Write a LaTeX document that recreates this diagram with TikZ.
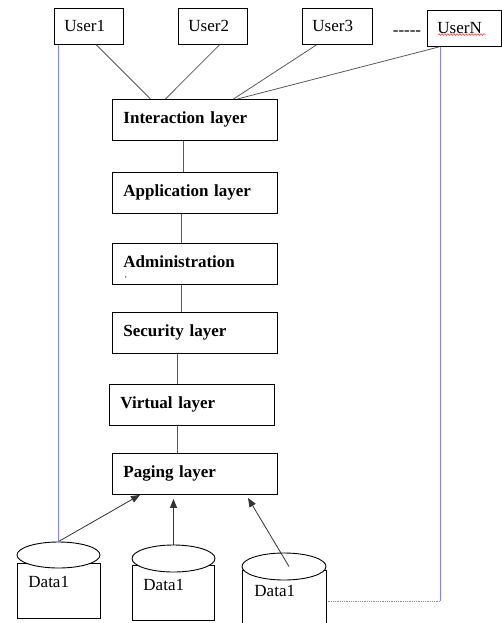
\documentclass[tikz,border=0pt]{standalone}
\usepackage{fontspec}
\setmainfont{Liberation Serif}
\usepackage{tikz}
\usetikzlibrary{positioning,calc,shapes.geometric,arrows.meta,decorations.pathmorphing}

\begin{document}
\begin{tikzpicture}[x=1pt, y=-1pt, line width=0.9pt,
    userbox/.style={draw, anchor=north west, minimum height=36pt, inner xsep=10pt, text width=49pt, align=left, font=\fontsize{17}{20}\selectfont},
    layerbox/.style={draw, anchor=north west, minimum height=41pt, inner xsep=11pt, text width=143pt, align=left, text height=12pt, text depth=4pt, font=\bfseries\fontsize{17}{20}\selectfont},
    dbox/.style={draw, anchor=north west, minimum width=83pt, minimum height=55pt, inner sep=0pt},
    dtop/.style={draw, ellipse, fill=white, minimum width=83pt, minimum height=26pt, inner sep=0pt},
    dlabel/.style={anchor=base west, inner sep=0pt, font=\fontsize{17}{20}\selectfont},
    link/.style={draw=black!65, line width=0.8pt},
    feed/.style={draw=black!80, line width=0.8pt, -{Triangle[length=9pt,width=7pt]}},
    blueline/.style={draw=blue!50, line width=0.6pt}]
    \useasboundingbox (0,0) rectangle (502,623);

    % Users
    \node[userbox] (user1) at (54,8) {User1};
    \node[userbox] (user2) at (178,8) {User2};
    \node[userbox, text width=50pt] (user3) at (302,8) {User3};
    \node[userbox, text width=54pt] (userN) at (427,10) {UserN};
    \node[font=\fontsize{17}{20}\selectfont, anchor=base, inner sep=0pt] (more) at (407,36) {-{}-{}-{}-{}-};
    \draw[red, line width=0.4pt, decorate, decoration={snake, segment length=3pt, amplitude=0.8pt}] (438,34.5) -- (486,34.5);

    % Layers
    \node[layerbox] (inter) at (112,99) {Interaction layer};
    \node[layerbox] (appl) at (112,172) {Application layer};
    \node[layerbox] (admin) at (112,243) {Administration\\[-10pt]{\mdseries\fontsize{8}{8}\selectfont\,,}};
    \node[layerbox] (secur) at (112,312) {Security layer};
    \node[layerbox] (virt) at (109,384) {Virtual layer};
    \node[layerbox] (paging) at (112,453) {Paging layer};

    \foreach \a/\b/\s in {inter/appl/-11.5, appl/admin/-13.5, admin/secur/-13.5, secur/virt/-17.5, virt/paging/-14.5}
        \draw[link] ([xshift=\s pt]\a.south) -- ([xshift=\s pt]\a.south |- \b.north);

    \draw[link] ([xshift=7.5pt]user1.south) -- ([xshift=-44.5pt]inter.north);
    \draw[link] ([xshift=6.5pt]user2.south) -- ([xshift=-29.5pt]inter.north);
    \draw[link] ([xshift=-21pt]user3.south) -- ([xshift=38.5pt]inter.north);
    \draw[link] ([xshift=12pt]userN.south west) -- ([xshift=42.5pt]inter.north);

    % Data stores
    \node[dbox] (dbox1) at (17,563) {};
    \node[dtop] (dtop1) at (58.5,555) {};
    \node[dbox, minimum width=82pt] (dbox2) at (132,565) {};
    \node[dtop, minimum height=27pt] (dtop2) at (173.5,558.5) {};
    \node[dbox, minimum width=84pt, minimum height=62pt] (dbox3) at (242,570) {};
    \node[dtop, minimum width=84pt, minimum height=27pt] (dtop3) at (284,566.5) {};
    \node[dlabel] (dlab1) at (28,587) {Data1};
    \node[dlabel] (dlab2) at (143,590) {Data1};
    \node[dlabel] (dlab3) at (254,596) {Data1};

    \draw[feed] (dtop1.north) -- ([xshift=28pt]paging.south west);
    \draw[feed] (dtop2.north) -- ([yshift=-4pt]dtop2.north |- paging.south);
    \draw[feed] ([xshift=5pt]dtop3.center) -- ([xshift=136pt,yshift=-3pt]paging.south west);

    % side links
    \coordinate (nbend) at (440,601);
    \draw[blueline] (user1.south west -| dtop1.north) -- (dtop1.north);
    \draw[blueline] ([xshift=13pt]userN.south west) -- (nbend);
    \draw[draw=black!45, line width=0.8pt, densely dotted] (nbend) -- (nbend -| dbox3.east);
\end{tikzpicture}
\end{document}
